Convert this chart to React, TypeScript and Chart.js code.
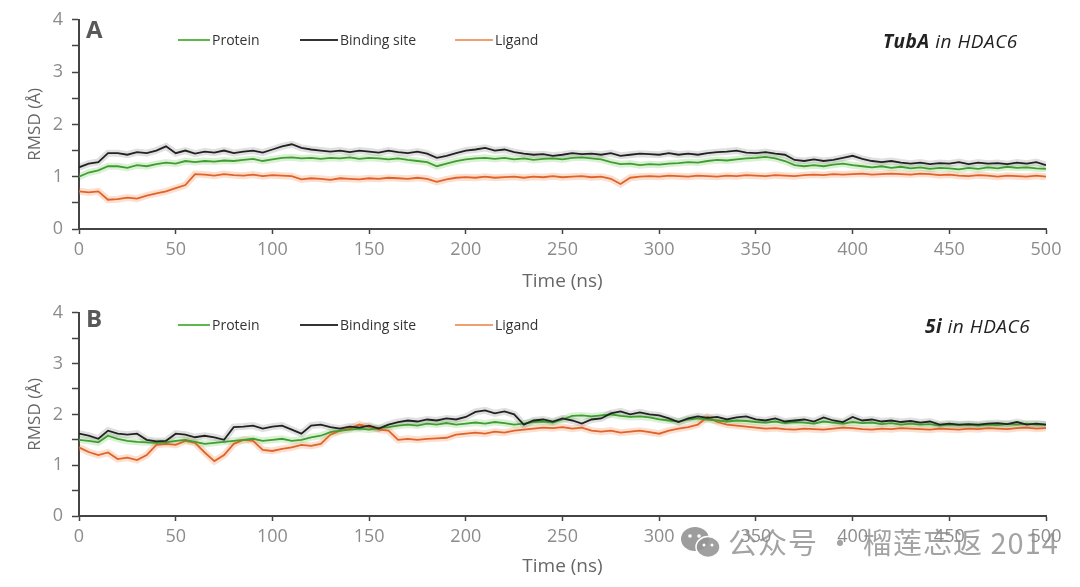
import React, { useEffect, useRef } from "react";
import { Chart, registerables } from "chart.js";
Chart.register(...registerables);

// ---------- data (RMSD in Å, sampled every TIME_STEP ns from 0 to 500) ----------
const TIME_STEP = 5;
const SERIES_NAMES = ["Protein", "Binding site", "Ligand"];

const PROT_A = [
  1.00, 1.08, 1.12, 1.20, 1.20, 1.17, 1.22, 1.20, 1.24, 1.27,
  1.25, 1.30, 1.28, 1.30, 1.29, 1.31, 1.30, 1.32, 1.34, 1.30,
  1.33, 1.36, 1.37, 1.35, 1.36, 1.34, 1.36, 1.35, 1.37, 1.34,
  1.36, 1.35, 1.33, 1.35, 1.32, 1.30, 1.28, 1.20, 1.25, 1.30,
  1.33, 1.35, 1.36, 1.34, 1.36, 1.33, 1.35, 1.32, 1.34, 1.35,
  1.33, 1.36, 1.37, 1.35, 1.33, 1.28, 1.24, 1.25, 1.22, 1.24,
  1.23, 1.25, 1.26, 1.28, 1.27, 1.30, 1.32, 1.31, 1.33, 1.35,
  1.36, 1.38, 1.35, 1.30, 1.22, 1.20, 1.22, 1.20, 1.23, 1.25,
  1.22, 1.20, 1.18, 1.20, 1.17, 1.19, 1.16, 1.18, 1.15, 1.17,
  1.16, 1.14, 1.17, 1.15, 1.18, 1.16, 1.19, 1.17, 1.18, 1.16,
  1.15,
];
const SITE_A = [
  1.18, 1.25, 1.28, 1.45, 1.45, 1.42, 1.47, 1.45, 1.50, 1.58,
  1.45, 1.50, 1.44, 1.48, 1.46, 1.50, 1.45, 1.48, 1.50, 1.46,
  1.52, 1.58, 1.62, 1.55, 1.52, 1.50, 1.48, 1.50, 1.47, 1.50,
  1.48, 1.46, 1.50, 1.47, 1.45, 1.48, 1.44, 1.36, 1.40, 1.45,
  1.50, 1.52, 1.55, 1.50, 1.52, 1.47, 1.44, 1.42, 1.43, 1.40,
  1.42, 1.45, 1.43, 1.44, 1.42, 1.45, 1.40, 1.42, 1.44, 1.43,
  1.42, 1.45, 1.42, 1.44, 1.42, 1.45, 1.47, 1.48, 1.50, 1.46,
  1.45, 1.47, 1.44, 1.42, 1.32, 1.30, 1.33, 1.30, 1.32, 1.36,
  1.40, 1.34, 1.30, 1.28, 1.30, 1.27, 1.25, 1.27, 1.24, 1.26,
  1.25, 1.28, 1.24, 1.27, 1.25, 1.26, 1.24, 1.27, 1.25, 1.28,
  1.22,
];
const LIG_A = [
  0.72, 0.70, 0.72, 0.56, 0.57, 0.60, 0.58, 0.64, 0.68, 0.72,
  0.78, 0.84, 1.05, 1.04, 1.02, 1.05, 1.03, 1.02, 1.04, 1.01,
  1.03, 1.02, 1.01, 0.95, 0.97, 0.96, 0.94, 0.97, 0.96, 0.95,
  0.97, 0.96, 0.98, 0.97, 0.96, 0.98, 0.96, 0.90, 0.95, 0.98,
  0.99, 0.98, 1.00, 0.98, 0.99, 1.00, 0.98, 1.00, 0.99, 1.01,
  0.99, 1.00, 1.01, 0.99, 1.00, 0.96, 0.86, 0.98, 1.00, 1.01,
  1.00, 1.02, 1.01, 1.00, 1.02, 1.01, 1.00, 1.02, 1.01, 1.03,
  1.02, 1.01, 1.03, 1.02, 1.01, 1.03, 1.04, 1.03, 1.05, 1.04,
  1.05, 1.06, 1.04, 1.05, 1.06, 1.05, 1.04, 1.06, 1.05, 1.03,
  1.04, 1.02, 1.01, 1.03, 1.02, 1.00, 1.02, 1.01, 1.00, 1.02,
  1.00,
];

const PROT_B = [
  1.50, 1.48, 1.45, 1.58, 1.52, 1.48, 1.46, 1.45, 1.44, 1.45,
  1.48, 1.50, 1.46, 1.42, 1.44, 1.46, 1.48, 1.50, 1.52, 1.48,
  1.50, 1.52, 1.48, 1.50, 1.55, 1.58, 1.65, 1.68, 1.70, 1.72,
  1.70, 1.73, 1.75, 1.78, 1.80, 1.78, 1.82, 1.80, 1.83, 1.80,
  1.82, 1.84, 1.82, 1.85, 1.83, 1.80, 1.82, 1.85, 1.86, 1.84,
  1.90, 1.97, 1.98, 1.96, 1.98, 2.00, 1.97, 1.95, 1.96, 1.94,
  1.90, 1.88, 1.86, 1.90, 1.92, 1.90, 1.88, 1.86, 1.88, 1.87,
  1.85, 1.84, 1.86, 1.83, 1.85, 1.84, 1.82, 1.86, 1.84, 1.82,
  1.85, 1.83, 1.84, 1.81, 1.83, 1.80, 1.82, 1.80, 1.81, 1.78,
  1.80, 1.79, 1.80, 1.78, 1.80, 1.79, 1.81, 1.80, 1.82, 1.80,
  1.80,
];
const SITE_B = [
  1.62, 1.58, 1.52, 1.68, 1.62, 1.60, 1.62, 1.50, 1.47, 1.48,
  1.62, 1.60, 1.55, 1.58, 1.55, 1.50, 1.75, 1.76, 1.78, 1.72,
  1.76, 1.78, 1.70, 1.62, 1.78, 1.80, 1.75, 1.72, 1.76, 1.74,
  1.78, 1.72, 1.80, 1.85, 1.88, 1.86, 1.90, 1.88, 1.92, 1.90,
  1.95, 2.05, 2.08, 2.02, 2.06, 2.00, 1.80, 1.88, 1.90, 1.86,
  1.92, 1.88, 1.82, 1.90, 1.92, 2.02, 2.06, 2.00, 2.04, 2.00,
  1.98, 1.92, 1.85, 1.92, 1.96, 1.93, 1.95, 1.90, 1.94, 1.96,
  1.90, 1.88, 1.92, 1.86, 1.88, 1.90, 1.86, 1.94, 1.88, 1.85,
  1.95, 1.88, 1.90, 1.86, 1.88, 1.85, 1.87, 1.84, 1.86, 1.80,
  1.82, 1.80, 1.81, 1.80, 1.82, 1.83, 1.81, 1.85, 1.80, 1.82,
  1.80,
];
const LIG_B = [
  1.35, 1.26, 1.20, 1.25, 1.12, 1.15, 1.10, 1.20, 1.40, 1.42,
  1.40, 1.48, 1.44, 1.25, 1.08, 1.20, 1.42, 1.50, 1.48, 1.30,
  1.28, 1.32, 1.35, 1.40, 1.38, 1.42, 1.60, 1.68, 1.72, 1.80,
  1.75, 1.70, 1.68, 1.50, 1.52, 1.50, 1.52, 1.53, 1.54, 1.60,
  1.62, 1.64, 1.62, 1.66, 1.64, 1.68, 1.70, 1.72, 1.74, 1.73,
  1.75, 1.72, 1.74, 1.68, 1.66, 1.68, 1.64, 1.66, 1.68, 1.65,
  1.62, 1.68, 1.72, 1.75, 1.80, 1.95, 1.85, 1.80, 1.78, 1.76,
  1.74, 1.72, 1.73, 1.71, 1.70, 1.72, 1.71, 1.70, 1.72, 1.74,
  1.73, 1.71, 1.70, 1.72, 1.71, 1.73, 1.72, 1.71, 1.70, 1.72,
  1.71, 1.70, 1.72, 1.71, 1.73, 1.72, 1.71, 1.73, 1.74, 1.72,
  1.73,
];

const X_MIN = 0;
const X_MAX = 500;
const X_STEP = 50;
const Y_MIN = 0;
const Y_MAX = 4;

// ---------- styles ----------
const COLORS = {
  protein: "#3f9e2f",
  site: "#222222",
  ligand: "#e0632b",
};
const HALOS = {
  protein: "rgba(90,190,70,0.22)",
  site: "rgba(60,60,60,0.16)",
  ligand: "rgba(245,140,80,0.28)",
};
const LEGEND_COLORS = ["#5cb84a", "#333333", "#f0a070"];
const FONT = "'Open Sans', 'DejaVu Sans', sans-serif";

type PanelProps = {
  top: number;
  height: number;
  padTop: number;
  xAxisHeight: number;
  titlePadBottom: number;
  prot: number[];
  site: number[];
  lig: number[];
};

const toPoints = (vals: number[]) =>
  vals.map((y, i) => ({ x: i * TIME_STEP, y }));

function Panel(p: PanelProps) {
  const ref = useRef<HTMLCanvasElement | null>(null);
  useEffect(() => {
    if (!ref.current) return;
    const mk = (vals: number[], color: string, width: number, order: number) => ({
      data: toPoints(vals),
      borderColor: color,
      backgroundColor: color,
      borderWidth: width,
      pointRadius: 0,
      tension: 0,
      fill: false,
      order,
    });
    const chart = new Chart(ref.current, {
      type: "line",
      data: {
        datasets: [
          mk(p.site, COLORS.site, 1.8, 0),
          mk(p.prot, COLORS.protein, 1.8, 1),
          mk(p.lig, COLORS.ligand, 1.8, 2),
          mk(p.site, HALOS.site, 7, 10),
          mk(p.prot, HALOS.protein, 7, 11),
          mk(p.lig, HALOS.ligand, 7, 12),
        ] as any,
      },
      options: {
        animation: false,
        responsive: false,
        events: [],
        layout: { padding: { top: p.padTop, right: 34, left: 0, bottom: 0 } },
        plugins: { legend: { display: false }, tooltip: { enabled: false } },
        scales: {
          x: {
            type: "linear",
            min: X_MIN,
            max: X_MAX,
            afterFit: (s: any) => {
              s.height = p.xAxisHeight;
            },
            ticks: {
              stepSize: X_STEP,
              color: "#8c8c8c",
              font: { family: FONT, size: 18 },
              padding: 5,
              maxRotation: 0,
            },
            grid: {
              drawOnChartArea: false,
              tickLength: 5,
              color: "#444",
              tickWidth: 1.5,
            },
            border: { color: "#444", width: 2 },
            title: {
              display: true,
              text: "Time (ns)",
              color: "#666",
              font: { family: FONT, size: 19 },
              padding: { top: 0, bottom: p.titlePadBottom },
            },
          },
          y: {
            min: Y_MIN,
            max: Y_MAX,
            afterFit: (s: any) => {
              s.width = 79;
            },
            ticks: {
              stepSize: 0.5,
              color: "#8c8c8c",
              font: { family: FONT, size: 18 },
              padding: 9,
              callback: (v: any) => (Number.isInteger(v) ? String(v) : ""),
            },
            grid: {
              drawOnChartArea: false,
              tickLength: 7,
              color: "#444",
              tickWidth: 1.5,
            },
            border: { color: "#444", width: 2 },
            title: {
              display: true,
              text: "RMSD (Å)",
              color: "#666",
              font: { family: FONT, size: 17 },
              padding: { top: 25, bottom: 0 },
            },
          },
        },
      } as any,
    });
    return () => chart.destroy();
  }, []);
  return (
    <canvas
      ref={ref}
      width={1080}
      height={p.height}
      style={{
        position: "absolute",
        left: 0,
        top: p.top,
        width: 1080,
        height: p.height,
      }}
    />
  );
}

const abs = (left: number, top: number, extra: React.CSSProperties = {}): React.CSSProperties => ({
  position: "absolute",
  left,
  top,
  transform: "translateY(-50%)",
  lineHeight: 1,
  whiteSpace: "nowrap",
  fontFamily: FONT,
  ...extra,
});

function Legend({ y }: { y: number }) {
  const items = [
    { x: 178, w: 32, name: SERIES_NAMES[0] },
    { x: 300, w: 38, name: SERIES_NAMES[1] },
    { x: 455, w: 38, name: SERIES_NAMES[2] },
  ];
  return (
    <>
      {items.map((it, i) => (
        <React.Fragment key={i}>
          <div
            style={{
              position: "absolute",
              left: it.x,
              top: y - 1,
              width: it.w,
              height: 2,
              background: LEGEND_COLORS[i],
            }}
          />
          <div style={abs(it.x + it.w + 2, y, { fontSize: 14, color: "#333" })}>{it.name}</div>
        </React.Fragment>
      ))}
    </>
  );
}

function WeChatIcon({ left, top }: { left: number; top: number }) {
  return (
    <svg
      width={42}
      height={34}
      viewBox="0 0 42 34"
      style={{ position: "absolute", left, top }}
    >
      <ellipse cx={15} cy={13} rx={14} ry={12} fill="rgba(140,140,140,0.85)" />
      <ellipse cx={28} cy={21} rx={12} ry={10.5} fill="rgba(150,150,150,0.9)" stroke="#fff" strokeWidth={1.5} />
      <circle cx={10} cy={10} r={1.8} fill="#fff" />
      <circle cx={19} cy={10} r={1.8} fill="#fff" />
      <circle cx={24} cy={19} r={1.5} fill="#fff" />
      <circle cx={32} cy={19} r={1.5} fill="#fff" />
    </svg>
  );
}

export default function App() {
  return (
    <div
      style={{
        position: "absolute",
        left: 0,
        top: 0,
        width: 1080,
        height: 587,
        background: "#fff",
        overflow: "hidden",
      }}
    >
      <Panel top={0} height={293} padTop={19} xAxisHeight={64} titlePadBottom={0} prot={PROT_A} site={SITE_A} lig={LIG_A} />
      <Panel top={293} height={294} padTop={11} xAxisHeight={71} titlePadBottom={9} prot={PROT_B} site={SITE_B} lig={LIG_B} />

      <div style={abs(86, 29, { fontSize: 24, fontWeight: 700, color: "#595959" })}>A</div>
      <Legend y={40} />
      <div style={abs(883, 41, { fontSize: 19, fontStyle: "italic", color: "#222", letterSpacing: 0.5 })}>
        <b>TubA</b> in HDAC6
      </div>

      <div style={abs(86, 318, { fontSize: 24, fontWeight: 700, color: "#595959" })}>B</div>
      <Legend y={325} />
      <div style={abs(925, 326, { fontSize: 19, fontStyle: "italic", color: "#222", letterSpacing: 0.5 })}>
        <b>5i</b> in HDAC6
      </div>

      <WeChatIcon left={680} top={526} />
      <div
        style={abs(728, 541, {
          fontSize: 29,
          letterSpacing: 1,
          color: "rgba(140,140,140,0.8)",
          fontFamily: "'Noto Sans CJK SC', 'Open Sans', sans-serif",
        })}
      >
        公众号 · 榴莲忘返 2014
      </div>
    </div>
  );
}
